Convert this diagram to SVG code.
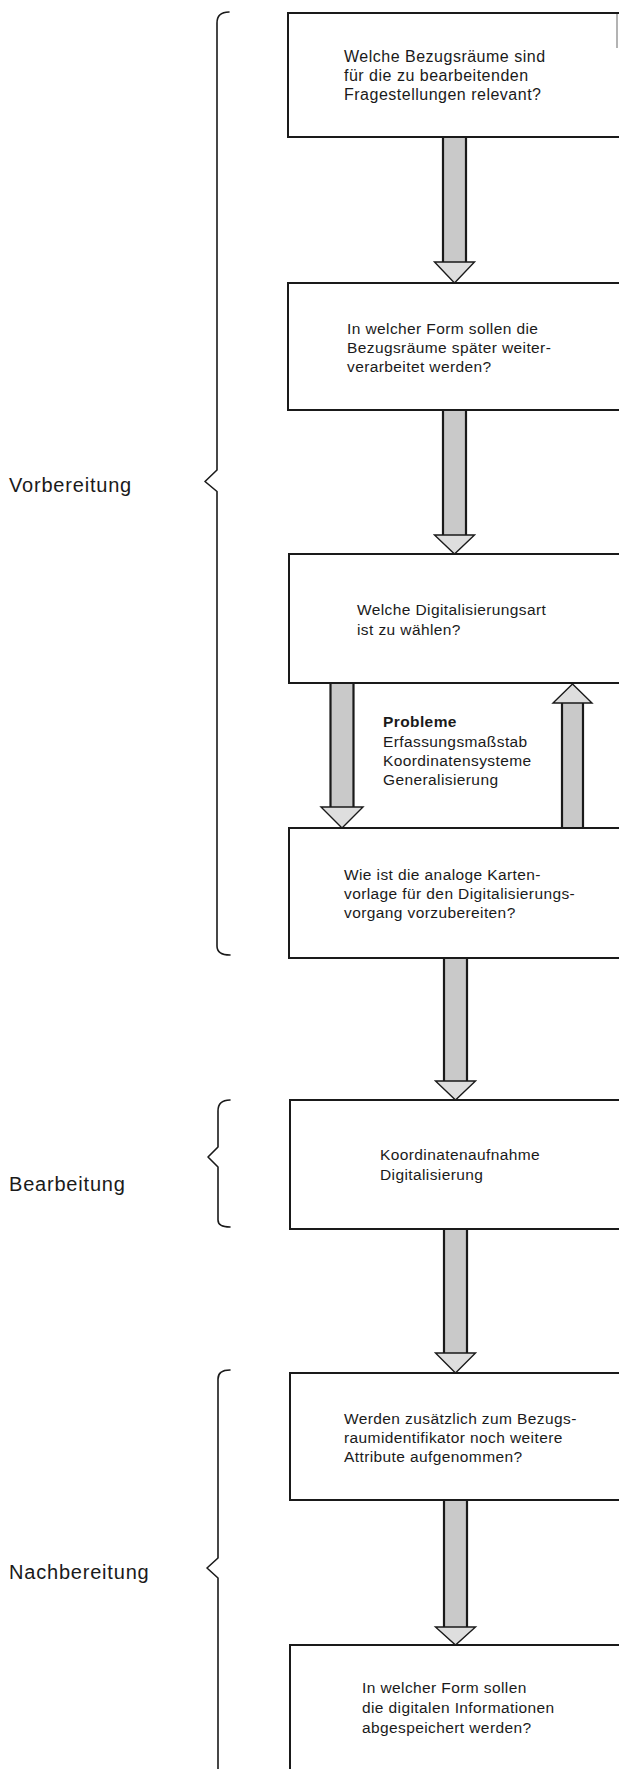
<svg xmlns="http://www.w3.org/2000/svg" width="619" height="1769" viewBox="0 0 619 1769">
  <style>
    .box { fill: #ffffff; stroke: #1a1a1a; stroke-width: 2; }
    .txt { font-family: "Liberation Sans", Arial, sans-serif; font-size: 15.5px; letter-spacing: 0.4px; fill: #1a1a1a; }
    .big { font-size: 16px; letter-spacing: 0.5px; }
    .bold { font-weight: bold; }
    .phase { font-family: "Liberation Sans", Arial, sans-serif; font-size: 20px; letter-spacing: 0.8px; fill: #1a1a1a; }
    .brace { fill: none; stroke: #1a1a1a; stroke-width: 1.6; stroke-linejoin: round; stroke-linecap: round; }
    .shaft { fill: #c9c9c9; stroke: none; }
    .edge { stroke: #1a1a1a; stroke-width: 2.2; fill: none; }
    .head { fill: #dedede; stroke: #1a1a1a; stroke-width: 1.4; stroke-linejoin: miter; }
  </style>

  <rect width="619" height="1769" fill="#ffffff"/>

  <!-- phase labels with their braces -->
  <g id="phase-vorbereitung">
    <path class="brace" d="M 229 12 C 221 12 217 16 217 23 L 217 470 L 205 481.5 L 217 491.5 L 217 946 C 217 952 221 955 230 955"/>
    <text class="phase" x="9" y="492">Vorbereitung</text>
  </g>
  <g id="phase-bearbeitung">
    <path class="brace" d="M 230 1100 C 222 1100 218 1104 218 1111 L 218 1147 L 208 1157 L 218 1167 L 218 1220 C 218 1225 222 1227 230 1227"/>
    <text class="phase" x="9" y="1191">Bearbeitung</text>
  </g>
  <g id="phase-nachbereitung">
    <path class="brace" d="M 230 1370 C 222 1370 218 1373 218 1379 L 218 1558 L 207 1568 L 218 1578 L 218 1775"/>
    <text class="phase" x="9" y="1579">Nachbereitung</text>
  </g>

  <!-- connectors: hatched block arrows -->
  <g id="connectors">
    <!-- box 1 to box 2 -->
    <rect class="shaft" x="443" y="137" width="23" height="125"/>
    <path class="edge" d="M 443 137 V 262 M 466 137 V 262"/>
    <path class="head" d="M 443 262 L 434.5 262 L 454.5 283 L 474.5 262 L 466 262 Z"/>

    <!-- box 2 to box 3 -->
    <rect class="shaft" x="443" y="410" width="23" height="125"/>
    <path class="edge" d="M 443 410 V 535 M 466 410 V 535"/>
    <path class="head" d="M 443 535 L 434.5 535 L 454.5 554 L 474.5 535 L 466 535 Z"/>

    <!-- box 3 down to box 4 -->
    <rect class="shaft" x="330.5" y="683" width="23" height="124"/>
    <path class="edge" d="M 330.5 683 V 807 M 353.5 683 V 807"/>
    <path class="head" d="M 330.5 807 L 321 807 L 342 828 L 363 807 L 353.5 807 Z"/>

    <!-- box 4 back up to box 3 -->
    <rect class="shaft" x="562" y="703" width="21" height="125"/>
    <path class="edge" d="M 562 703 V 828 M 583 703 V 828"/>
    <path class="head" d="M 562 703 L 553 703 L 572.5 684 L 592 703 L 583 703 Z"/>

    <!-- box 4 to box 5 -->
    <rect class="shaft" x="444" y="958" width="23" height="123"/>
    <path class="edge" d="M 444 958 V 1081 M 467 958 V 1081"/>
    <path class="head" d="M 444 1081 L 435.5 1081 L 455.5 1100 L 475.5 1081 L 467 1081 Z"/>

    <!-- box 5 to box 6 -->
    <rect class="shaft" x="444" y="1229" width="23" height="124"/>
    <path class="edge" d="M 444 1229 V 1353 M 467 1229 V 1353"/>
    <path class="head" d="M 444 1353 L 435.5 1353 L 455.5 1373 L 475.5 1353 L 467 1353 Z"/>

    <!-- box 6 to box 7 -->
    <rect class="shaft" x="444" y="1500" width="23" height="127"/>
    <path class="edge" d="M 444 1500 V 1627 M 467 1500 V 1627"/>
    <path class="head" d="M 444 1627 L 435.5 1627 L 455.5 1645 L 475.5 1627 L 467 1627 Z"/>
  </g>

  <!-- question boxes (open to the right edge) -->
  <g id="box-bezugsraeume">
    <rect class="box" x="288" y="13" width="340" height="124"/>
    <line x1="617" y1="14" x2="617" y2="48" stroke="#9a9a9a" stroke-width="1.5"/>
    <text class="txt big" x="344" y="62">Welche Bezugsräume sind</text>
    <text class="txt big" x="344" y="81">für die zu bearbeitenden</text>
    <text class="txt big" x="344" y="100">Fragestellungen relevant?</text>
  </g>

  <g id="box-form">
    <rect class="box" x="288" y="283" width="340" height="127"/>
    <text class="txt" x="347" y="334">In welcher Form sollen die</text>
    <text class="txt" x="347" y="353">Bezugsräume später weiter-</text>
    <text class="txt" x="347" y="372">verarbeitet werden?</text>
  </g>

  <g id="box-digitalisierungsart">
    <rect class="box" x="289" y="554" width="340" height="129"/>
    <text class="txt" x="357" y="615">Welche Digitalisierungsart</text>
    <text class="txt" x="357" y="635">ist zu wählen?</text>
  </g>

  <g id="probleme">
    <text class="txt bold" x="383" y="727">Probleme</text>
    <text class="txt" x="383" y="747">Erfassungsmaßstab</text>
    <text class="txt" x="383" y="766">Koordinatensysteme</text>
    <text class="txt" x="383" y="785">Generalisierung</text>
  </g>

  <g id="box-kartenvorlage">
    <rect class="box" x="289" y="828" width="340" height="130"/>
    <text class="txt" x="344" y="880">Wie ist die analoge Karten-</text>
    <text class="txt" x="344" y="899">vorlage für den Digitalisierungs-</text>
    <text class="txt" x="344" y="918">vorgang vorzubereiten?</text>
  </g>

  <g id="box-koordinatenaufnahme">
    <rect class="box" x="290" y="1100" width="340" height="129"/>
    <text class="txt" x="380" y="1160">Koordinatenaufnahme</text>
    <text class="txt" x="380" y="1180">Digitalisierung</text>
  </g>

  <g id="box-attribute">
    <rect class="box" x="290" y="1373" width="340" height="127"/>
    <text class="txt" x="344" y="1424">Werden zusätzlich zum Bezugs-</text>
    <text class="txt" x="344" y="1443">raumidentifikator noch weitere</text>
    <text class="txt" x="344" y="1462">Attribute aufgenommen?</text>
  </g>

  <g id="box-abspeichern">
    <rect class="box" x="290" y="1645" width="340" height="140"/>
    <text class="txt" x="362" y="1693">In welcher Form sollen</text>
    <text class="txt" x="362" y="1713">die digitalen Informationen</text>
    <text class="txt" x="362" y="1733">abgespeichert werden?</text>
  </g>
</svg>
